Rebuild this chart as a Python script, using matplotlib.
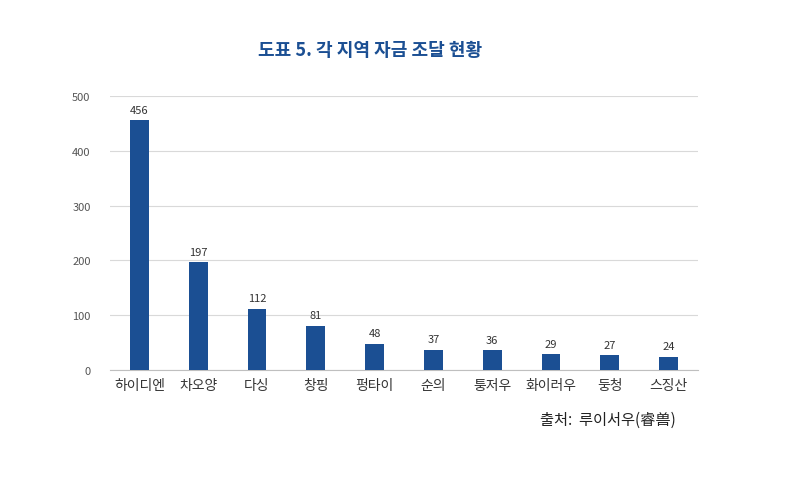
import matplotlib
matplotlib.use("Agg")
import matplotlib.pyplot as plt

plt.rcParams["font.family"] = "Noto Sans CJK KR"

regions = ["하이디엔", "차오양", "다싱", "창핑", "펑타이", "순의", "퉁저우", "화이러우", "둥청", "스징산"]
counts = [456, 197, 112, 81, 48, 37, 36, 29, 27, 24]
yticks = [0, 100, 200, 300, 400, 500]

fig = plt.figure(figsize=(8.12, 4.81), dpi=100)
ax = fig.add_axes([110 / 812, 1 - 371 / 481, 588 / 812, 274 / 481])

x = range(len(regions))
bars = ax.bar(x, counts, width=0.32, color="#1b4f93", zorder=3)
for b, v in zip(bars, counts):
    ax.text(b.get_x() + b.get_width() / 2, v + 10, str(v), ha="center", va="bottom",
            fontsize=8, color="#333333")

ax.set_ylim(0, 500)
ax.set_xlim(-0.5, len(regions) - 0.5)
ax.set_yticks(yticks)
ax.tick_params(axis="y", length=0, labelsize=8, labelcolor="#555555", pad=14)
ax.tick_params(axis="x", length=0, labelsize=10, labelcolor="#333333", pad=6)
ax.set_xticks(list(x))
ax.set_xticklabels(regions)
ax.grid(axis="y", color="#d9d9d9", linewidth=0.8, zorder=0)
for s in ["top", "right", "left"]:
    ax.spines[s].set_visible(False)
ax.spines["bottom"].set_color("#bfbfbf")

fig.text(370 / 812, 1 - 50 / 481, "도표 5. 각 지역 자금 조달 현황", ha="center", va="center",
         fontsize=13, fontweight="bold", color="#1b4f93")
fig.text(540 / 812, 1 - 420 / 481, "출처:  루이서우(睿兽)", ha="left", va="center",
         fontsize=11, color="#222222")

fig.savefig("out.png", dpi=100)
